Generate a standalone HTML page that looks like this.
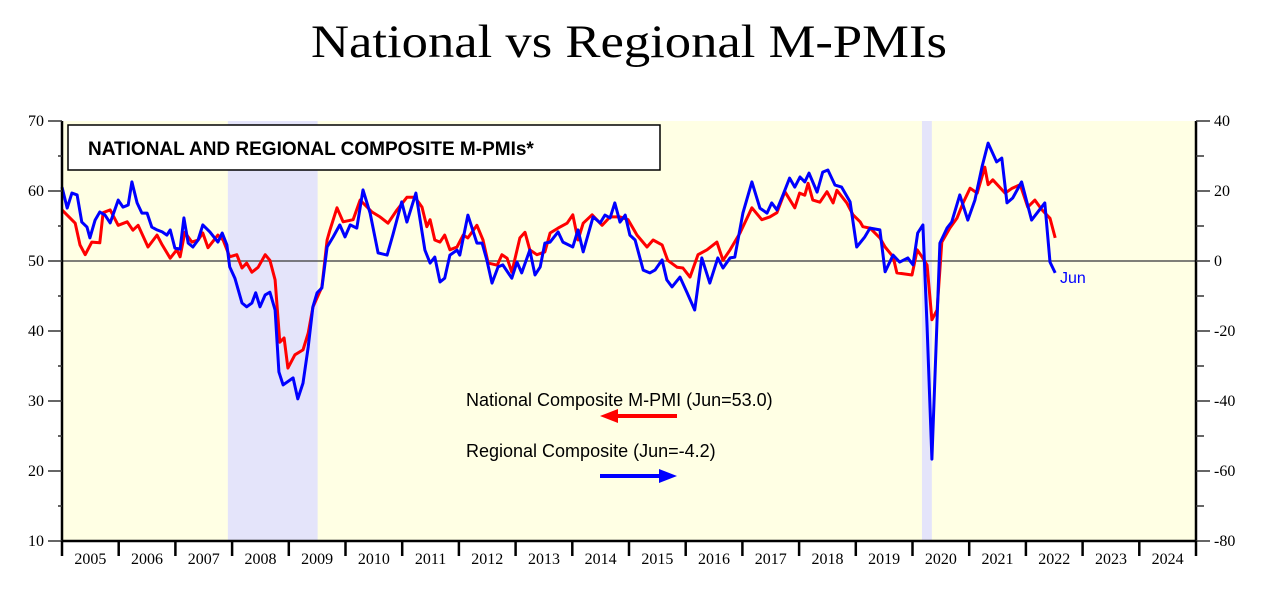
<!DOCTYPE html>
<html><head><meta charset="utf-8"><style>
html,body{margin:0;padding:0;background:#fff;width:1264px;height:591px;overflow:hidden}
svg{display:block}
</style></head><body>
<svg id="chart" width="1264" height="591" xmlns="http://www.w3.org/2000/svg">
<text x="629" y="57" text-anchor="middle" font-family="Liberation Serif, serif" font-size="47" textLength="636" lengthAdjust="spacingAndGlyphs">National vs Regional M-PMIs</text>
<rect x="62" y="121" width="1134" height="420" fill="#ffffe4"/>
<g id="shades"></g>
<line x1="62" y1="261" x2="1196" y2="261" stroke="#555" stroke-width="1.5"/>
<g id="series"></g>
<g id="axes"></g>
<rect x="68" y="125" width="592" height="45" fill="#fff" stroke="#000" stroke-width="1.5"/>
<text x="88" y="155" font-family="Liberation Sans, sans-serif" font-weight="bold" font-size="19">NATIONAL AND REGIONAL COMPOSITE M-PMIs*</text>
<text x="466" y="406" font-family="Liberation Sans, sans-serif" font-size="18">National Composite M-PMI (Jun=53.0)</text>
<g>
<line x1="612" y1="416" x2="677" y2="416" stroke="#f00" stroke-width="4"/>
<polygon points="600,416 618,409 618,423" fill="#f00"/>
</g>
<text x="466" y="457" font-family="Liberation Sans, sans-serif" font-size="18">Regional Composite (Jun=-4.2)</text>
<g>
<line x1="600" y1="476" x2="665" y2="476" stroke="#00f" stroke-width="4"/>
<polygon points="677,476 659,469 659,483" fill="#00f"/>
</g>
<text x="1060" y="283" font-family="Liberation Sans, sans-serif" font-size="16" fill="#00f">Jun</text>
</svg>
<script>
// months since Jan 2005
const nationalMonths=[0,2.8,3.8,4.9,6.3,8,8.7,10.2,11.9,13.8,15,16.1,18.2,20.1,21.2,22.9,24.3,25,26,27.5,28.8,29.8,30.9,33,34.1,35.5,37,38.1,39.1,40.2,41.5,43,44,45.1,46.1,47,47.8,49.3,51,52.1,53.1,55,56.1,56.7,58.2,59.5,61.6,63.1,65.6,67.3,69,70.9,73,74.7,76.2,77.2,77.9,78.9,80,81,82.1,83.6,84.9,85.9,87.8,89.1,90.2,92.1,93.1,94.2,95.2,96.9,98,99,100.5,102.2,103.3,105,106.9,108.1,109.2,110.3,112.2,114.3,116,118.1,119.8,121.7,123.8,125.1,127,128.2,130.2,131.4,132.9,134.6,136.5,138.6,139.9,141.4,143.5,146,148.1,149.8,151.3,153,155.1,156.1,157.2,157.9,158.9,160.4,161.9,163.2,164,166.1,167.4,168.9,169.5,171,173.1,174.2,175.9,176.7,179.9,181,182,183.1,184.1,185.2,186.2,187.9,189.4,190.7,192.2,193.7,195.3,196,197,199.6,201.1,202.8,204.4,205.9,207.4,209.1,210.2];
const nationalValues=[57.3,55.4,52.3,50.9,52.7,52.6,56.9,57.3,55.1,55.6,54.4,55.1,52,53.7,52.3,50.4,51.6,50.6,54.1,52.7,53,54,51.9,53.7,53,50.6,50.9,49,49.7,48.4,49.1,50.9,50.1,47.3,38.4,39,34.7,36.6,37.3,39.7,43.4,46.3,53,54.4,57.6,55.6,55.9,58.7,57,56.3,55.4,57.3,59.1,59.1,57.7,54.9,55.9,53,52.7,53.7,51.6,52,53.7,53.3,55.1,53,49.7,49.4,50.9,50.4,48.4,53.3,54.1,51.6,50.9,51.3,54,54.7,55.4,56.6,53,55.4,56.6,55.1,56.3,56.3,55.9,53.7,52,53,52.3,50.1,49.1,49,47.7,50.9,51.6,52.7,50.1,51.6,54,57.6,55.9,56.3,56.9,59.9,57.6,59.7,59.4,61.1,58.7,58.4,59.9,58.3,60.1,58.3,56.6,55.6,54.9,54.7,53.3,52,50.6,48.3,48,51.6,50.6,49.4,41.6,43,52.7,54.7,56.1,58.3,60.4,59.7,63.4,60.9,61.6,59.7,60.4,60.9,57.7,58.7,57.3,56.1,53.3];
const regionalMonths=[0,1.1,2.1,3.2,4.2,5.3,5.9,7,8,9.1,10.2,11.9,12.9,14,14.8,15.9,16.9,18,19,20.1,21.2,22.2,22.9,23.9,25,25.8,26.7,27.7,28.8,29.8,31.3,33,33.9,34.9,35.5,36.6,38.1,39.1,40.2,41,41.9,43,44,45.1,45.9,46.8,48.9,49.9,51,52.1,53.1,54,55,56.1,57.4,58.8,59.9,61,62.4,63.7,65.2,66.9,68.8,70,71.9,73,74.9,76.8,77.9,78.9,80,81,82.1,83.6,84.2,85.9,87.8,88.9,89.9,91,92.3,93.3,95.2,96.3,97.3,99,100.1,101.2,102.2,103.3,105,106,108.1,109.2,110.3,112.4,113.9,114.9,116,117,118.1,119.2,120.2,121.3,123,124.4,125.5,127,128,129.1,130.8,132.3,133.9,135.4,137.1,138.8,139.9,141.4,142.4,144.1,146,147.7,149.2,150.2,151.3,152.6,154,155.1,156.2,157.2,158.1,159.8,161,162.1,163.6,165,166.8,168.2,169.9,171,173.1,174.2,175.9,177.3,179,180.1,181.1,182.2,183.1,184.1,185.8,187.3,188.3,190,191.7,193.2,194.7,196,197.8,198.9,200,201.2,203.1,205.2,208,209.1,210.2];
const regionalValues=[21.1,15.1,19.4,18.9,11.1,9.7,6.6,11.7,14,13.1,10.9,17.4,15.4,16,22.6,16.6,13.7,13.7,9.7,8.9,8.3,7.4,8.9,3.7,3.4,12.3,5.1,4,6,10.3,8.3,5.4,8,4.6,-1.7,-4.9,-12,-13.1,-12,-9.1,-13.1,-9.7,-8.9,-14,-31.7,-35.4,-33.4,-39.4,-34.9,-24.6,-13.1,-9.1,-7.7,4,6.9,10.3,6.9,10.3,9.4,20.3,13.7,2.3,1.7,7.4,16.9,11.1,19.4,3.1,-0.6,1.1,-6,-4.9,1.7,3.1,1.7,13.1,5.1,5.1,0.3,-6.3,-1.7,-1.1,-4.9,-0.3,-3.4,3.1,-4,-1.7,5.1,5.4,8.3,5.4,4,8.9,2.6,12.6,10.9,13.1,12.3,16.6,11.1,13.1,7.4,6,-2.6,-3.4,-2.6,0.3,-5.4,-7.4,-4.6,-9.1,-14,0.9,-6.3,0.9,-2,0.9,1.1,13.7,22.6,15.1,13.7,16.6,14.6,18.9,23.7,21.1,24,22.6,25.1,19.7,25.4,26,21.7,21.1,16.9,4,6.9,9.4,8.9,-3.1,1.7,-0.3,0.9,-1.1,8,10.3,-18.9,-56.6,5.1,9.4,11.1,18.9,11.7,17.4,26.9,33.7,28.3,29.4,16.6,18,22.6,11.7,16.6,-0.3,-3.4];
const leftTicks=[10,20,30,40,50,60,70];
const rightTicks=[-80,-60,-40,-20,0,20,40];
const yearLabels=[2005,2006,2007,2008,2009,2010,2011,2012,2013,2014,2015,2016,2017,2018,2019,2020,2021,2022,2023,2024];
const recessions=[[35.1,54.1],[182,184.1]];

const X0=62,X1=1196,Y0=121,Y1=541;
const xS=m=>X0+m*(X1-X0)/240;
const yL=v=>Y1-(v-10)*(Y1-Y0)/60;
const yR=v=>Y1-(v+80)*(Y1-Y0)/120;
const NS='http://www.w3.org/2000/svg';
function mk(t,a,p){const e=document.createElementNS(NS,t);for(const k in a)e.setAttribute(k,a[k]);p.appendChild(e);return e;}
const shades=document.getElementById('shades'),series=document.getElementById('series'),axes=document.getElementById('axes');
recessions.forEach(r=>{const e=mk('rect',{x:xS(r[0]),y:Y0,width:xS(r[1])-xS(r[0]),height:Y1-Y0,fill:'#e4e4fa'},shades);

});
function line(ms,vs,f,c,n){const d=ms.map((m,i)=>(i?'L':'M')+xS(m).toFixed(1)+','+f(vs[i]).toFixed(1)).join('');
const e=mk('path',{d:d,fill:'none',stroke:c,'stroke-width':3,'stroke-linejoin':'round'},series);

}
line(nationalMonths,nationalValues,yL,'#f00','national-line');
line(regionalMonths,regionalValues,yR,'#00f','regional-line');
const ax={stroke:'#000','stroke-width':2.5};
mk('line',Object.assign({x1:X0,y1:Y0,x2:X0,y2:Y1},ax),axes);
mk('line',Object.assign({x1:X1,y1:Y0,x2:X1,y2:Y1},ax),axes);
mk('line',Object.assign({x1:X0,y1:Y1,x2:X1,y2:Y1},ax),axes);
const tf={'font-family':'Liberation Serif, serif','font-size':16};
leftTicks.forEach((v,i)=>{const y=yL(v);mk('line',{x1:48,y1:y,x2:X0,y2:y,stroke:'#333','stroke-width':1.5},axes);
if(i<leftTicks.length-1)mk('line',{x1:58,y1:yL(v+5),x2:X0,y2:yL(v+5),stroke:'#333','stroke-width':1.5},axes);
const t=mk('text',Object.assign({x:44,y:y+5,'text-anchor':'end'},tf),axes);t.textContent=v;

});
rightTicks.forEach((v,i)=>{const y=yR(v);mk('line',{x1:X1,y1:y,x2:1210,y2:y,stroke:'#333','stroke-width':1.5},axes);
if(i<rightTicks.length-1)mk('line',{x1:X1,y1:yR(v+10),x2:1204,y2:yR(v+10),stroke:'#333','stroke-width':1.5},axes);
const t=mk('text',Object.assign({x:1214,y:y+5},tf),axes);t.textContent=v;

});
yearLabels.forEach((yr,i)=>{const x=xS(i*12);mk('line',{x1:x,y1:Y1,x2:x,y2:556,stroke:'#000','stroke-width':2.5},axes);
const t=mk('text',Object.assign({x:xS(i*12+6),y:564,'text-anchor':'middle'},tf),axes);t.textContent=yr;

});
mk('line',{x1:X1,y1:Y1,x2:X1,y2:556,stroke:'#000','stroke-width':2.5},axes);
</script>
</body></html>
